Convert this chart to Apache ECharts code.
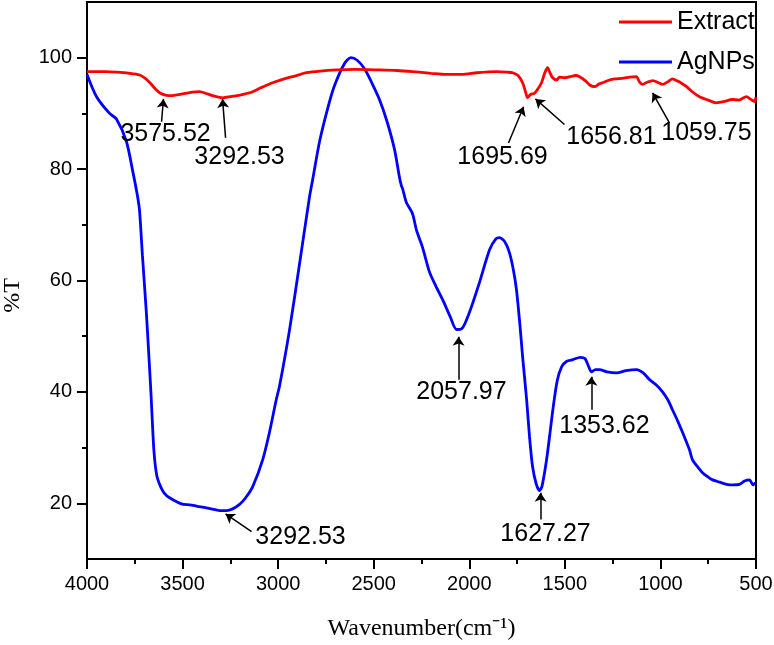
<!DOCTYPE html>
<html>
<head>
<meta charset="utf-8">
<script src="https://cdn.jsdelivr.net/npm/echarts@6/dist/echarts.min.js"></script>
<style>
  html, body { margin: 0; padding: 0; background: #fff; }
  #chart { width: 774px; height: 645px; }
</style>
</head>
<body>
<div id="chart"></div>
<script>
// AgNPs spectrum (wavenumber, %T)
const agWave = [4000, 3950, 3882, 3846, 3794, 3760, 3735, 3725, 3710, 3690, 3673, 3665, 3650, 3635, 3615, 3595, 3568, 3506, 3460, 3412, 3350, 3307, 3270, 3238, 3202, 3170, 3133, 3081, 3045, 3010, 2993, 2941, 2888, 2836, 2820, 2783, 2740, 2705, 2652, 2620, 2585, 2548, 2510, 2470, 2430, 2391, 2365, 2355, 2349, 2329, 2297, 2276, 2245, 2208, 2175, 2140, 2100, 2067, 2040, 2000, 1947, 1894, 1860, 1842, 1815, 1790, 1770, 1753, 1735, 1721, 1700, 1685, 1669, 1650, 1633, 1620, 1597, 1580, 1562, 1540, 1517, 1490, 1458, 1420, 1395, 1375, 1361, 1340, 1319, 1280, 1230, 1180, 1125, 1090, 1057, 1020, 989, 960, 937, 910, 884, 848, 832, 800, 780, 750, 727, 690, 654, 620, 586, 560, 534, 515, 503];
const agT = [97, 93, 90, 89, 85, 79.5, 75, 72.5, 64.5, 54.5, 44.5, 39.5, 29.5, 25, 23, 21.8, 21, 19.9, 19.7, 19.4, 19, 18.7, 18.7, 19, 19.8, 21, 23, 27.8, 32.8, 38.6, 41, 51, 63, 75, 78, 85, 91, 95, 99, 100, 99.5, 98, 95.5, 92.5, 88.5, 83.5, 78.5, 77, 76.5, 74, 72, 69, 66, 61.5, 59, 56.6, 53.5, 51.2, 51.3, 54.2, 59.6, 65.5, 67.5, 67.7, 67, 65, 62, 58.3, 52, 46.3, 38.6, 32, 26.6, 23.5, 22.3, 23, 27.5, 32, 37, 42, 44.5, 45.5, 45.8, 46.2, 46, 44.5, 43.6, 44, 44, 43.6, 43.4, 43.8, 44, 43.4, 42.2, 41.2, 40, 38.5, 36.8, 34.8, 32.7, 29.6, 27.8, 26.3, 25.5, 24.7, 24.2, 23.8, 23.4, 23.3, 23.4, 24, 24.2, 23.3, 23.7];

// Extract spectrum (wavenumber, %T)
const exWave = [4000, 3900, 3846, 3780, 3725, 3695, 3673, 3645, 3620, 3590, 3552, 3500, 3450, 3412, 3370, 3343, 3290, 3250, 3200, 3149, 3090, 3029, 2960, 2904, 2852, 2780, 2695, 2600, 2470, 2380, 2297, 2200, 2120, 2040, 1960, 1858, 1800, 1773, 1745, 1721, 1705, 1695, 1680, 1660, 1643, 1622, 1605, 1590, 1578, 1564, 1543, 1528, 1500, 1470, 1445, 1423, 1390, 1370, 1345, 1320, 1295, 1267, 1240, 1200, 1160, 1126, 1109, 1093, 1070, 1040, 1010, 989, 960, 937, 910, 880, 863, 830, 796, 760, 707, 670, 623, 590, 550, 530, 508, 500];
const exT = [97.5, 97.5, 97.4, 97.2, 96.9, 96.3, 95.6, 94.5, 93.7, 93.3, 93.2, 93.5, 93.8, 93.9, 93.5, 93.2, 92.8, 93, 93.3, 93.7, 94.6, 95.5, 96.3, 96.8, 97.3, 97.6, 97.8, 97.9, 97.8, 97.7, 97.5, 97.2, 97, 97, 97.3, 97.5, 97.4, 97.3, 96.8, 95.5, 93.8, 92.8, 93.4, 93.6, 94.3, 95.5, 97.3, 98.2, 97.3, 96.4, 96, 96.5, 96.4, 96.6, 96.8, 96.6, 95.8, 95.1, 94.8, 95.3, 95.6, 96, 96.2, 96.3, 96.5, 96.6, 95.6, 95.2, 95.6, 95.9, 95.5, 95.2, 95.7, 96.2, 95.8, 95.2, 94.8, 93.8, 93, 92.5, 91.9, 92.1, 92.5, 92.4, 93, 92.6, 92.1, 92.9];

// tick labels
const xTicks = [500, 1000, 1500, 2000, 2500, 3000, 3500, 4000];
const yTicks = [20, 40, 60, 80, 100];
const yMinorTicks = [30, 50, 70, 90];

// peak annotations: label, arrow head [wn, %T], arrow tail [wn, %T], label centre [wn, %T]
const exNotes = ['3575.52', '3292.53', '1695.69', '1656.81', '1059.75'];
const exHead = [[3600, 92.6], [3291, 92.6], [1716, 91.2], [1654, 92.6], [1041, 93.7]];
const exTail = [[3610, 88.5], [3275, 85.6], [1795, 84.7], [1502, 88.0], [953, 88.3]];
const exText = [[3589, 86.2], [3202, 82.2], [1826, 82.2], [1256, 85.8], [759, 86.5]];

const agNotes = ['3292.53', '2057.97', '1627.27', '1353.62'];
const agHead = [[3275, 18.1], [2056, 49.9], [1627, 21.9], [1361, 42.7]];
const agTail = [[3139, 14.9], [2056, 42.2], [1627, 17.1], [1361, 36.8]];
const agText = [[2883, 14.0], [2041, 39.9], [1601, 14.4], [1293, 33.8]];

const sans = 'Liberation Sans, Arial, sans-serif';
const serif = 'Liberation Serif, Times New Roman, serif';

function pairs(xs, ys) {
  return xs.map((x, i) => [x, ys[i]]);
}

function arrows(heads, tails) {
  return {
    silent: true,
    animation: false,
    symbol: ['none', 'arrow'],
    symbolSize: 9,
    label: { show: false },
    lineStyle: { color: '#000', width: 1.5, type: 'solid' },
    itemStyle: { color: '#000' },
    emphasis: { disabled: true },
    data: heads.map((h, i) => [{ coord: tails[i] }, { coord: h }]),
  };
}

function notes(texts, pos) {
  return {
    silent: true,
    animation: false,
    symbol: 'circle',
    symbolSize: 0,
    label: {
      show: true,
      position: 'inside',
      color: '#000',
      fontFamily: sans,
      fontSize: 25,
      formatter: (p) => p.name,
    },
    data: texts.map((t, i) => ({ name: t, coord: pos[i] })),
  };
}

const chart = echarts.init(document.getElementById('chart'));

const option = {
  animation: false,
  backgroundColor: '#fff',
  grid: {
    left: 87,
    right: 18,
    top: 2,
    bottom: 86,
    outerBoundsMode: 'none',
    containLabel: false,
    show: true,
    borderColor: '#000',
    borderWidth: 2,
  },
  legend: {
    data: ['Extract', 'AgNPs'],
    orient: 'vertical',
    left: 614,
    top: 4,
    icon: 'rect',
    itemWidth: 53,
    itemHeight: 3,
    itemGap: 14,
    textStyle: { fontFamily: sans, fontSize: 25, color: '#000', lineHeight: 26 },
  },
  xAxis: {
    type: 'value',
    inverse: true,
    min: 500,
    max: 4000,
    interval: 500,
    name: 'Wavenumber(cm⁻¹)',
    nameLocation: 'middle',
    nameGap: 58,
    nameTextStyle: { fontFamily: serif, fontSize: 24, color: '#000' },
    axisLine: { show: true, lineStyle: { color: '#000', width: 2 } },
    axisTick: { show: true, length: 10, lineStyle: { color: '#000', width: 2 } },
    minorTick: { show: true, splitNumber: 2, length: 5, lineStyle: { color: '#000', width: 2 } },
    axisLabel: {
      customValues: xTicks,
      formatter: (v) => String(v),
      margin: 15,
      fontFamily: sans,
      fontSize: 20,
      color: '#000',
    },
    splitLine: { show: false },
  },
  yAxis: [
    {
      type: 'value',
      min: 10,
      max: 110,
      interval: 10,
      name: '%T',
      nameLocation: 'middle',
      nameRotate: 90,
      nameGap: 62,
      nameTextStyle: { fontFamily: serif, fontSize: 24, color: '#000', padding: [0, 30, 0, 0] },
      axisLine: { show: true, lineStyle: { color: '#000', width: 2 } },
      axisTick: { show: true, customValues: yTicks, length: 10, lineStyle: { color: '#000', width: 2 } },
      axisLabel: { customValues: yTicks, formatter: (v) => String(v), margin: 15, fontFamily: sans, fontSize: 20, color: '#000' },
      splitLine: { show: false },
    },
    {
      type: 'value',
      min: 10,
      max: 110,
      position: 'left',
      axisLine: { show: true, lineStyle: { color: '#000', width: 2 } },
      axisTick: { show: true, customValues: yMinorTicks, length: 5, lineStyle: { color: '#000', width: 2 } },
      axisLabel: { show: false },
      splitLine: { show: false },
    },
  ],
  series: [
    {
      name: 'AgNPs',
      type: 'line',
      data: pairs(agWave, agT),
      showSymbol: false,
      smooth: 0.25,
      color: '#0000ff',
      lineStyle: { width: 2.8, color: '#0000ff' },
      markLine: arrows(agHead, agTail),
      markPoint: notes(agNotes, agText),
      z: 2,
    },
    {
      name: 'Extract',
      type: 'line',
      data: pairs(exWave, exT),
      showSymbol: false,
      smooth: 0.25,
      color: '#ff0000',
      lineStyle: { width: 2.8, color: '#ff0000' },
      markLine: arrows(exHead, exTail),
      markPoint: notes(exNotes, exText),
      z: 3,
    },
  ],
};

chart.setOption(option);
</script>
</body>
</html>
